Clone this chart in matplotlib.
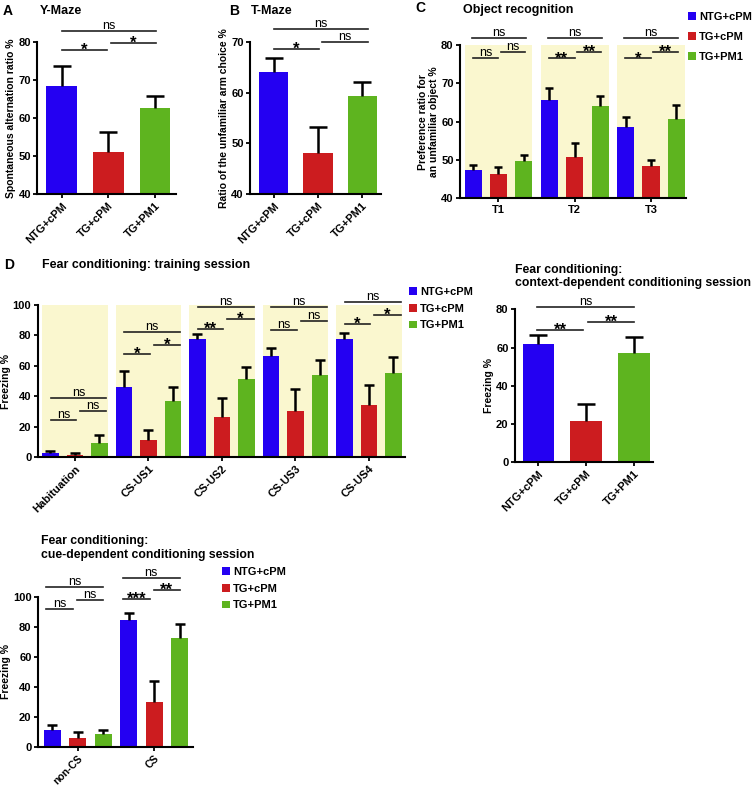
import numpy as np
import matplotlib.pyplot as plt

plt.rcParams['font.family'] = ['Liberation Sans', 'DejaVu Sans']
plt.rcParams['font.weight'] = 'bold'
plt.rcParams['axes.labelweight'] = 'bold'

W, H = 754, 788
colors = ['#2400f2', '#cc1c1f', '#5eb41f']
yellow = '#faf7cf'
groups = ['NTG+cPM', 'TG+cPM', 'TG+PM1']

# A: Y-maze
ymaze_mean = [68.5, 51.2, 62.7]
ymaze_err = [5.1, 5.1, 3.1]
# B: T-maze
tmaze_mean = [64.1, 48.1, 59.3]
tmaze_err = [2.6, 5.1, 2.7]
# C: object recognition
obj_cats = ['T1', 'T2', 'T3']
obj_mean = [[47.4, 46.3, 49.7], [65.7, 50.8, 64.1], [58.6, 48.5, 60.6]]
obj_err = [[1.3, 1.8, 1.6], [3.2, 3.5, 2.6], [2.5, 1.5, 3.7]]
obj_sig = [['ns', 'ns', 'ns'], ['**', '**', 'ns'], ['*', '**', 'ns']]
# D: training session
train_cats = ['Habituation', 'CS-US1', 'CS-US2', 'CS-US3', 'CS-US4']
train_mean = [[3.0, 1.5, 9.2], [46.2, 11.4, 37.0], [77.5, 26.5, 51.2],
              [66.5, 30.4, 54.0], [77.5, 34.3, 55.3]]
train_err = [[1.4, 1.1, 5.4], [10.5, 6.5, 9.2], [3.5, 12.2, 7.9],
             [5.3, 14.2, 9.9], [4.4, 13.4, 10.6]]
train_sig = [['ns', 'ns', 'ns'], ['*', '*', 'ns'], ['**', '*', 'ns'],
             ['ns', 'ns', 'ns'], ['*', '*', 'ns']]
train_sig_y = [[24.5, 30.6, 38.7], [67.8, 74.0, 82.5], [84.2, 90.6, 98.5],
               [83.6, 89.7, 98.5], [87.3, 93.4, 101.8]]
# context-dependent
ctx_mean = [61.7, 21.8, 57.3]
ctx_err = [4.8, 8.7, 8.3]
# cue-dependent
cue_cats = ['non-CS', 'CS']
cue_mean = [[11.1, 5.9, 8.7], [84.8, 29.7, 72.3]]
cue_err = [[3.7, 4.1, 2.8], [4.3, 14.0, 9.6]]
cue_sig = [['ns', 'ns', 'ns'], ['***', '**', 'ns']]
cue_sig_y = [[91.7, 97.9, 106.2], [98.5, 104.4, 112.4]]

fig = plt.figure(figsize=(7.54, 7.88), dpi=100)


def px_axes(l, t, r, b):
    return fig.add_axes([l / W, 1 - b / H, (r - l) / W, (b - t) / H])


def style(ax):
    for s in ['top', 'right']:
        ax.spines[s].set_visible(False)
    for s in ['left', 'bottom']:
        ax.spines[s].set_linewidth(1.5)
    ax.tick_params(direction='out', length=2.8, width=1.3, labelsize=8, pad=1.8)


def errbars(ax, x, m, e, cs):
    eb = ax.errorbar(x, m, yerr=[np.zeros(len(m)), e], fmt='none', ecolor='black',
                     elinewidth=1.8, capsize=cs, capthick=1.8, zorder=3)
    eb[1][0].set_visible(False)


def sig(ax, x0, x1, y, label):
    ax.plot([x0, x1], [y, y], color='#222222', lw=1.2, clip_on=False, zorder=4)
    if '*' in label:
        ax.annotate(label, xy=((x0 + x1) / 2, y), xytext=(0, -3.5), textcoords='offset points',
                    ha='center', va='baseline', fontsize=12, fontweight='bold', annotation_clip=False)
    else:
        ax.annotate(label, xy=((x0 + x1) / 2, y), xytext=(0, 1.5), textcoords='offset points',
                    ha='center', va='baseline', fontsize=9, fontweight='normal', annotation_clip=False)


def ftext(x, y, s, size=9, **kw):
    fig.text(x / W, 1 - y / H, s, fontsize=size, fontweight='bold', va='center', ha='left', **kw)


def ylab(ax, s):
    ax.set_ylabel(s, fontsize=7.5, labelpad=1.5, linespacing=1.1)


def simple_panel(ax, m, e, ylim, yticks, xlim, cs):
    x = np.arange(3)
    ax.bar(x, m, width=0.66, color=colors, zorder=2)
    errbars(ax, x, m, e, cs)
    ax.set_xlim(*xlim)
    ax.set_ylim(*ylim)
    ax.set_yticks(yticks)
    ax.set_xticks(x)
    ax.set_xticklabels(groups, rotation=45, ha='right', va='top', rotation_mode='anchor')
    style(ax)


def grouped_panel(ax, cats, m, e, ylim, yticks, xlim, cs, shade=True):
    m = np.array(m)
    e = np.array(e)
    gx = np.arange(len(cats))
    off = 1 / 3
    if shade:
        for g in gx:
            ax.axvspan(g - off - 0.112, g + off + 0.112, color=yellow, zorder=0, lw=0)
    bars = []
    for k in range(3):
        b = ax.bar(gx + (k - 1) * off, m[:, k], width=0.225, color=colors[k], zorder=2,
                   label=groups[k])
        bars.append(b)
        errbars(ax, gx + (k - 1) * off, m[:, k], e[:, k], cs)
    ax.set_xlim(*xlim)
    ax.set_ylim(*ylim)
    ax.set_yticks(yticks)
    ax.set_xticks(gx)
    style(ax)
    return bars


def legend(ax, bars, x, y, spacing):
    ax.legend(bars, groups, loc='upper left', bbox_to_anchor=(x / W, 1 - y / H),
              bbox_transform=fig.transFigure, frameon=False, fontsize=8,
              handlelength=0.7, handleheight=0.7, handletextpad=0.3,
              labelspacing=spacing, borderaxespad=0, borderpad=0)


# A
axA = px_axes(37.3, 41.7, 176, 194.3)
simple_panel(axA, ymaze_mean, ymaze_err, (40, 80), [40, 50, 60, 70, 80], (-0.523, 2.45), 6.5)
ylab(axA, 'Spontaneous alternation ratio %')
sig(axA, 0, 0.98, 77.8, '*')
sig(axA, 1.05, 2.02, 79.6, '*')
sig(axA, 0, 2.02, 82.9, 'ns')
ftext(3, 11, 'A', 10)
ftext(40, 11, 'Y-Maze', 9)

# B
axB = px_axes(250, 41.7, 381, 194.3)
simple_panel(axB, tmaze_mean, tmaze_err, (40, 70), [40, 50, 60, 70], (-0.53, 2.42), 6.5)
ylab(axB, 'Ratio of the unfamiliar arm choice %')
sig(axB, 0, 1.03, 68.57, '*')
sig(axB, 1.1, 2.13, 69.9, 'ns')
sig(axB, 0, 2.13, 72.4, 'ns')
ftext(229, 11, 'B', 10)
ftext(251, 11, 'T-Maze', 9)

# C
axC = px_axes(460, 45, 686, 198.3)
barsC = grouped_panel(axC, obj_cats, obj_mean, obj_err, (40, 80), [40, 50, 60, 70, 80],
                      (-0.505, 2.46), 3.2)
axC.set_xticklabels(obj_cats)
ylab(axC, 'Preference ratio for\nan unfamiliar object %')
for g in range(3):
    sig(axC, g - 0.34, g + 0.0, 76.5, obj_sig[g][0])
    sig(axC, g + 0.03, g + 0.35, 78.2, obj_sig[g][1])
    sig(axC, g - 0.35, g + 0.36, 81.7, obj_sig[g][2])
legend(axC, barsC, 688, 12, 0.9)
ftext(415, 8, 'C', 10)
ftext(463, 10, 'Object recognition', 9)

# D training
axD = px_axes(37.7, 305, 405, 457.3)
barsD = grouped_panel(axD, train_cats, train_mean, train_err, (0, 100), [0, 20, 40, 60, 80, 100],
                      (-0.505, 4.49), 3.6)
axD.set_xticklabels(train_cats, rotation=45, ha='right', va='top', rotation_mode='anchor')
ylab(axD, 'Freezing %')
for g in range(5):
    sig(axD, g - 0.33, g + 0.02, train_sig_y[g][0], train_sig[g][0])
    sig(axD, g + 0.07, g + 0.43, train_sig_y[g][1], train_sig[g][1])
    sig(axD, g - 0.33, g + 0.43, train_sig_y[g][2], train_sig[g][2])
legend(axD, barsD, 409, 287, 0.6)
ftext(4, 265, 'D', 10)
ftext(42, 265, 'Fear conditioning: training session', 8.9)

# context-dependent
axE = px_axes(515, 309.3, 653, 462.3)
simple_panel(axE, ctx_mean, ctx_err, (0, 80), [0, 20, 40, 60, 80], (-0.487, 2.4), 6.4)
ylab(axE, 'Freezing %')
sig(axE, -0.02, 0.93, 69.2, '**')
sig(axE, 1.04, 2.0, 73.2, '**')
sig(axE, -0.02, 2.0, 81.4, 'ns')
ftext(515, 276.7, 'Fear conditioning:\ncontext-dependent conditioning session', 8.8,
      linespacing=1.15)

# cue-dependent
axF = px_axes(38, 596.7, 193.3, 747)
barsF = grouped_panel(axF, cue_cats, cue_mean, cue_err, (0, 100), [0, 20, 40, 60, 80, 100],
                      (-0.52, 1.51), 3.6, shade=False)
axF.set_xticklabels(cue_cats, rotation=45, ha='right', va='top', rotation_mode='anchor',
                    fontsize=7.5)
ylab(axF, 'Freezing %')
for g in range(2):
    sig(axF, g - 0.41, g - 0.06, cue_sig_y[g][0], cue_sig[g][0])
    sig(axF, g - 0.01, g + 0.33, cue_sig_y[g][1], cue_sig[g][1])
    sig(axF, g - 0.41, g + 0.33, cue_sig_y[g][2], cue_sig[g][2])
legend(axF, barsF, 222, 567, 0.6)
ftext(41, 548, 'Fear conditioning:\ncue-dependent conditioning session', 8.8, linespacing=1.15)

fig.savefig('out.png', dpi=100)
